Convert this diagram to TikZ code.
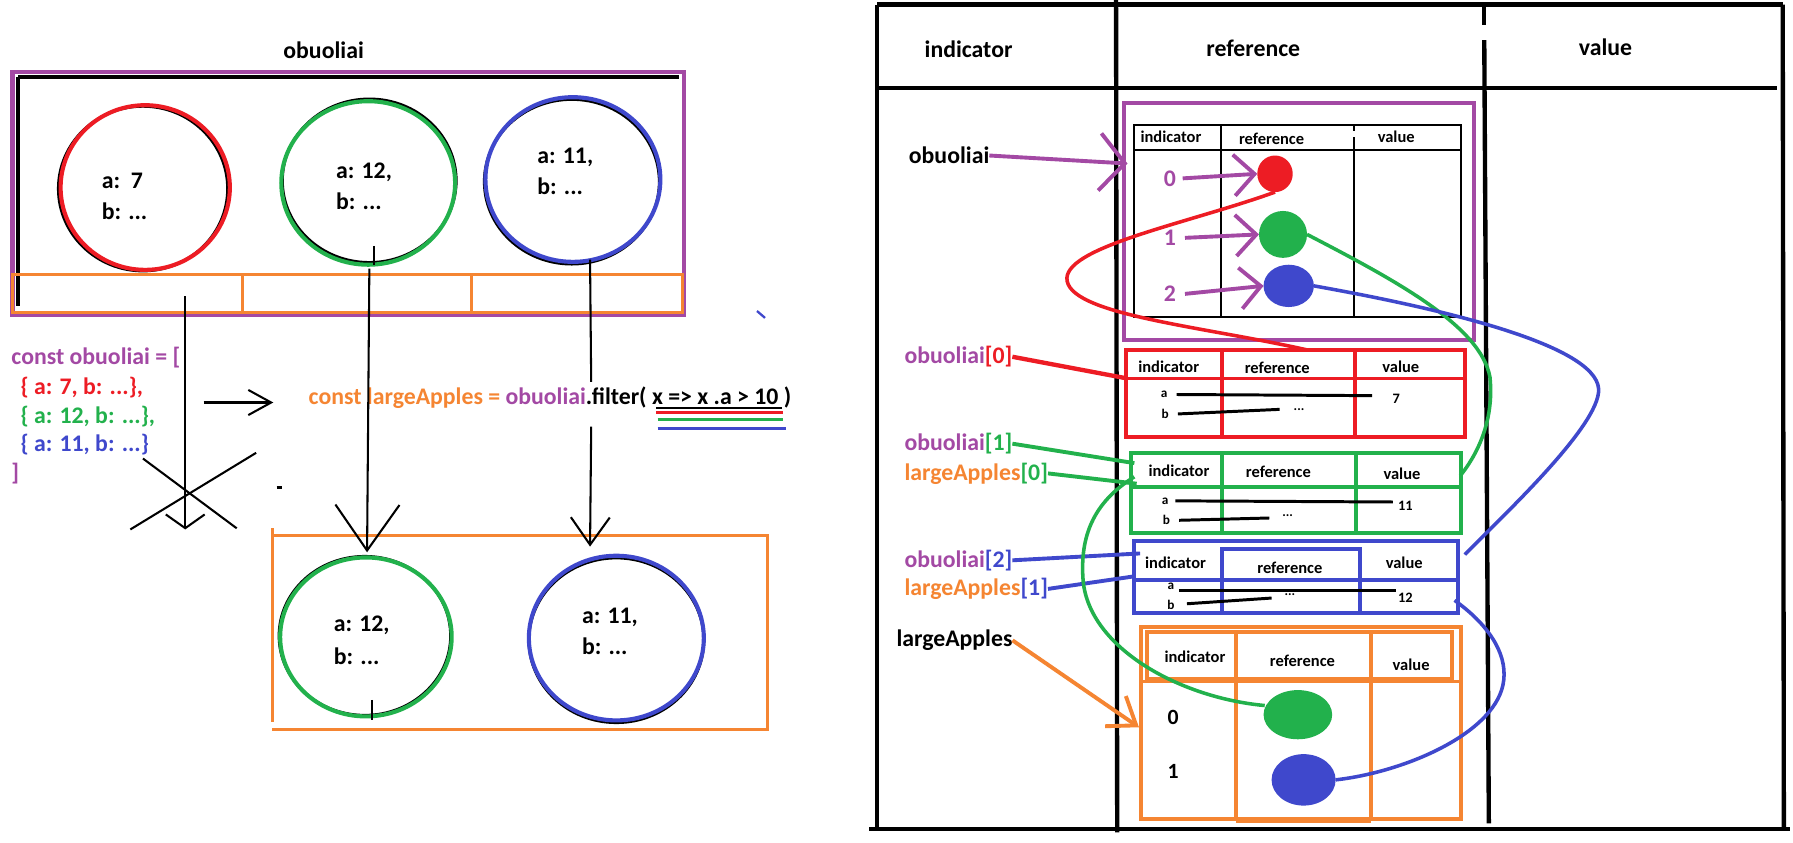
\documentclass[tikz,border=0pt]{standalone}
\usepackage{fontspec}
\setmainfont{Carlito}
\usetikzlibrary{arrows.meta,shapes.geometric}
\definecolor{ppurple}{RGB}{163,73,164}
\definecolor{pred}{RGB}{237,28,36}
\definecolor{pgreen}{RGB}{34,177,76}
\definecolor{pblue}{RGB}{63,72,204}
\definecolor{porange}{RGB}{245,133,50}
\begin{document}
\begin{tikzpicture}[x=0.5pt,y=-0.5pt,
  every node/.style={inner sep=0pt,outer sep=0pt},
  bigtxt/.style={font=\fontsize{10.4}{12}\selectfont\bfseries},
  smalltxt/.style={font=\fontsize{7.2}{8}\selectfont\bfseries},
  tinytxt/.style={font=\fontsize{5.8}{6}\selectfont\bfseries},
  numtxt/.style={font=\fontsize{6.3}{7}\selectfont\bfseries},
  codetxt/.style={bigtxt,anchor=west},
  heavy/.style={line width=1.9pt},
  mid/.style={line width=1.7pt},
  thin/.style={line width=0.9pt},
  rowline/.style={line width=1.3pt},
  curve/.style={line width=1.55pt},
  bigcirc/.style={ellipse,line width=1.8pt},
  dot/.style={ellipse},
  barbsmall/.style={-{Straight Barb[length=6pt,width=17pt]}},
  barblong/.style={-{Straight Barb[length=20pt,width=28pt]}},
  barbmid/.style={-{Straight Barb[length=12pt,width=17pt]}},
  barbshort/.style={-{Straight Barb[length=10pt,width=11pt]}},
  barbp/.style={-{Straight Barb[length=9pt,width=18pt]}},
  barbbig/.style={-{Straight Barb[length=11pt,width=25pt]}},
  barbo/.style={-{Straight Barb[length=11pt,width=16pt]}},
]
\useasboundingbox (0,0) rectangle (1568,737);
\fill[white] (0,0) rectangle (1568,737);

%================ LEFT PART =================
\node[bigtxt] (ttl) at (283,44) {obuoliai};
\draw[ppurple,line width=1.9pt] (11,63) rectangle (598,275);
\draw[black,line width=1.8pt] (16,67) -- (594,67);
\draw[black,line width=1.8pt] (16,67) -- (16,268);
\draw[porange,line width=1.4pt] (11,240) rectangle (597,273);
\draw[porange,line width=1.4pt] (212,240) rectangle (412,273);

\node[bigcirc,draw=black,line width=1.2pt,minimum width=74pt,minimum height=72pt] (sh1) at (125,165) {};
\node[bigcirc,draw=pred,minimum width=74pt,minimum height=72pt] (c1) at (127,164) {};
\node[bigcirc,draw=black,line width=1.2pt,minimum width=76pt,minimum height=71.5pt] (sh2) at (323,158) {};
\node[bigcirc,draw=pgreen,minimum width=76pt,minimum height=71.5pt] (c2) at (322,160) {};
\node[bigcirc,draw=black,line width=1.2pt,minimum width=76.5pt,minimum height=72pt] (sh3) at (500,159) {};
\node[bigcirc,draw=pblue,minimum width=76.5pt,minimum height=72pt] (c3) at (501,157) {};
\node[bigtxt,anchor=west] (t1a) at (89,158) {a:~~7};
\node[bigtxt,anchor=west] (t1b) at (89,185) {b: ...};
\node[bigtxt,anchor=west] (t2a) at (294,151) {a: 12,};
\node[bigtxt,anchor=west] (t2b) at (294,176) {b: ...};
\node[bigtxt,anchor=west] (t3a) at (470,138) {a: 11,};
\node[bigtxt,anchor=west] (t3b) at (470,163) {b: ...};

\node[codetxt,text=ppurple] (code1) at (10,313) {const obuoliai = [};
\node[codetxt,text=pred] (code2) at (18,339) {\{ a: 7, b: ...\},};
\node[codetxt,text=pgreen] (code3) at (18,364) {\{ a: 12, b: ...\},};
\node[codetxt,text=pblue] (code4) at (18,389) {\{ a: 11, b: ...\}};
\node[codetxt,text=ppurple] (code5) at (10,414) {]};
\node[codetxt] (filt) at (270,348) {{\color{porange}const largeApples = }{\color{ppurple}obuoliai}.filter( x => x .a > 10 )};
\coordinate (ulA) at (574,357); \coordinate (ulB) at (684,357);
\draw[black,line width=0.9pt] (ulA) -- (ulB);
\coordinate (urA) at (574,361); \coordinate (urB) at (685,361);
\draw[pred,line width=1.3pt] (urA) -- (urB);
\coordinate (ugA) at (575,367); \coordinate (ugB) at (685,367);
\draw[pgreen,line width=1.3pt] (ugA) -- (ugB);
\coordinate (ubA) at (575,374.5); \coordinate (ubB) at (687,374.5);
\draw[pblue,line width=1.3pt] (ubA) -- (ubB);

\draw[porange,line width=1.4pt] (238,468) -- (671,468) -- (671,638) -- (238,638);
\draw[porange,line width=1.4pt] (238,462) -- (238,631);

\node[bigcirc,draw=black,line width=1.2pt,minimum width=75pt,minimum height=69.5pt] (sh4) at (319,556) {};
\node[bigcirc,draw=pgreen,minimum width=75pt,minimum height=69.5pt] (c4) at (320,557) {};
\node[bigcirc,draw=black,line width=1.2pt,minimum width=76.5pt,minimum height=72pt] (sh5) at (539,560) {};
\node[bigcirc,draw=pblue,minimum width=76.5pt,minimum height=72pt] (c5) at (539,558) {};
\node[bigtxt,anchor=west] (t4a) at (292,547) {a: 12,};
\node[bigtxt,anchor=west] (t4b) at (292,574) {b: ...};
\node[bigtxt,anchor=west] (t5a) at (509,540) {a: 11,};
\node[bigtxt,anchor=west] (t5b) at (509,565) {b: ...};

\coordinate (v1s) at (162,259); \coordinate (v1e) at (162,463);
\draw[thin,barbsmall] (v1s) -- (v1e);
\coordinate (xa1) at (125,401); \coordinate (xa2) at (207,462);
\coordinate (xb1) at (114,463); \coordinate (xb2) at (224,396);
\draw[thin] (xa1) -- (xa2);
\draw[thin] (xb1) -- (xb2);
\coordinate (v2t) at (327,215); \coordinate (v2u) at (327,232);
\draw[thin] (v2t) -- (v2u);
\coordinate (v2s) at (323,235); \coordinate (v2e) at (321,483);
\draw[thin,barblong] (v2s) -- (v2e);
\coordinate (v3s) at (516,227); \coordinate (v3m) at (517,334);
\draw[thin] (v3s) -- (v3m);
\coordinate (v3n) at (517,373); \coordinate (v3e) at (516,478);
\draw[thin,barbmid] (v3n) -- (v3e);
\coordinate (hs) at (178,352); \coordinate (he) at (239,352);
\draw[thin,barbshort] (hs) -- (he);
\coordinate (tk1) at (325,612); \coordinate (tk2) at (325,630);
\draw[thin] (tk1) -- (tk2);
\coordinate (bm1) at (662,272); \coordinate (bm2) at (669,278);
\draw[pblue,line width=1pt] (bm1) -- (bm2);
\coordinate (dm1) at (242,426); \coordinate (dm2) at (247,426);
\draw[line width=1.2pt] (dm1) -- (dm2);

%================ RIGHT PART =================
\draw[heavy] (767,4) -- (1559,4);
\draw[heavy] (767,77) -- (1554,77);
\draw[heavy] (767,4) -- (767,723);
\draw[heavy] (976,0) -- (977,728);
\draw[heavy] (1298,4) -- (1298,22);
\draw[heavy] (1298,35) -- (1302,720);
\draw[heavy] (1559,4) -- (1560,724);
\draw[heavy] (760,725) -- (1565,725);
\node[bigtxt] (h1) at (847,43) {indicator};
\node[bigtxt] (h2) at (1096,42) {reference};
\node[bigtxt] (h3) at (1404,41) {value};

\draw[ppurple,mid] (983,90) rectangle (1289,297);
\draw[thin] (992,109) rectangle (1278,277);
\draw[thin] (992,131) -- (1278,131);
\draw[thin] (1068,109) -- (1068,277);
\draw[thin] (1184,109) -- (1184,115);
\draw[thin] (1184,120) -- (1184,277);
\node[smalltxt] (ih1) at (1024,120) {indicator};
\node[smalltxt] (ih2) at (1112,121) {reference};
\node[smalltxt] (ih3) at (1221,120) {value};
\node[dot,fill=pred,minimum width=15.5pt,minimum height=16pt] (rdot) at (1115,152) {};
\node[dot,fill=pgreen,minimum width=21pt,minimum height=20.5pt] (gdot) at (1122,205) {};
\node[dot,fill=pblue,minimum width=22pt,minimum height=18.5pt] (bdot) at (1127,250) {};
\node[bigtxt,text=ppurple] (n0) at (1023,156) {0};
\node[bigtxt,text=ppurple] (n1) at (1023,208) {1};
\node[bigtxt,text=ppurple] (n2) at (1023,257) {2};
\draw[ppurple,mid,barbp] ([xshift=3pt]n0.east) -- (rdot.west);
\draw[ppurple,mid,barbp] ([xshift=4pt]n1.east) -- (gdot.west);
\draw[ppurple,mid,barbp] ([xshift=4pt]n2.east) -- (bdot.west);
\node[bigtxt] (lob) at (830,136) {obuoliai};
\coordinate (pbt) at (986,143);
\draw[ppurple,mid,barbbig] (lob.east) -- (pbt);

% red table
\draw[pred,mid] (985,306) rectangle (1281,382);
\draw[pred,mid] (985,331) -- (1281,331);
\draw[pred,mid] (1069,306) -- (1069,382);
\draw[pred,mid] (1185,306) -- (1185,382);
\node[smalltxt] (rh1) at (1022,321) {indicator};
\node[smalltxt] (rh2) at (1117,322) {reference};
\node[smalltxt] (rh3) at (1225,321) {value};
\node[tinytxt] (ra) at (1018,345) {a};
\node[tinytxt] (rb) at (1019,362) {b};
\node[numtxt] (rv) at (1221,349) {7};
\node[tinytxt] (rdd) at (1136,358) {...};
\coordinate (raE) at (1200,346);
\draw[rowline] ([xshift=4pt]ra.east) -- (raE);
\coordinate (rbE) at (1119,358);
\draw[rowline] ([xshift=4pt]rb.east) -- (rbE);
\node[bigtxt,anchor=west] (l0) at (791,312) {{\color{ppurple}obuoliai}{\color{pred}[0]}};
\coordinate (rT) at (986,331);
\draw[pred,heavy] (l0.east) -- (rT);

% green table
\draw[pgreen,mid] (989,396) rectangle (1278,466);
\draw[pgreen,mid] (989,426) -- (1278,426);
\draw[pgreen,mid] (1069,396) -- (1069,466);
\draw[pgreen,mid] (1186,396) -- (1186,466);
\node[smalltxt] (gh1) at (1031,412) {indicator};
\node[smalltxt] (gh2) at (1118,413) {reference};
\node[smalltxt] (gh3) at (1226,414) {value};
\node[tinytxt] (ga) at (1019,438) {a};
\node[tinytxt] (gb) at (1020,455) {b};
\node[numtxt] (gv) at (1229,442) {11};
\node[tinytxt] (gdd) at (1126,451) {...};
\coordinate (gaE) at (1218,439);
\draw[rowline] ([xshift=3pt]ga.east) -- (gaE);
\coordinate (gbE) at (1110,453);
\draw[rowline] ([xshift=4pt]gb.east) -- (gbE);
\node[bigtxt,anchor=west] (l1) at (791,388) {{\color{ppurple}obuoliai}{\color{pgreen}[1]}};
\node[bigtxt,anchor=west] (l2) at (791,414) {{\color{porange}largeApples}{\color{pgreen}[0]}};
\coordinate (gT1) at (992,405);
\coordinate (gT2) at (994,423);
\draw[pgreen,mid] (l1.east) -- (gT1);
\draw[pgreen,mid] (l2.east) -- (gT2);

% blue table
\draw[pblue,mid] (992,473) rectangle (1275,536);
\draw[pblue,mid] (992,507) -- (1275,507);
\draw[pblue,mid] (1069,480) rectangle (1189,536);
\node[smalltxt] (bh1) at (1028,492) {indicator};
\node[smalltxt] (bh2) at (1128,497) {reference};
\node[smalltxt] (bh3) at (1228,492) {value};
\node[tinytxt] (ba) at (1024,513) {a};
\node[tinytxt] (bb) at (1024,529) {b};
\node[numtxt] (bv) at (1229,523) {12};
\node[tinytxt] (bdd) at (1128,520) {...};
\coordinate (baS) at (1031,516); \coordinate (baE) at (1221,516);
\draw[rowline] (baS) -- (baE);
\coordinate (bbS) at (1038,528); \coordinate (bbE) at (1112,523);
\draw[rowline] (bbS) -- (bbE);
\node[bigtxt,anchor=west] (l3) at (791,490) {{\color{ppurple}obuoliai}{\color{pblue}[2]}};
\node[bigtxt,anchor=west] (l4) at (791,515) {{\color{porange}largeApples}{\color{pblue}[1]}};
\coordinate (bT1) at (997,484);
\coordinate (bT2) at (992,504);
\draw[pblue,mid] (l3.east) -- (bT1);
\draw[pblue,mid] (l4.east) -- (bT2);

% orange table
\draw[porange,mid] (998,548) rectangle (1278,716);
\draw[porange,mid] (1003,553) rectangle (1270,594);
\draw[porange,mid] (998,596) -- (1278,596);
\draw[porange,mid] (1081,553) -- (1081,718);
\draw[porange,mid] (1199,553) -- (1199,718);
\draw[porange,mid] (1081,718) -- (1199,718);
\node[smalltxt] (oh1) at (1045,574) {indicator};
\node[smalltxt] (oh2) at (1139,578) {reference};
\node[smalltxt] (oh3) at (1234,581) {value};
\node[font=\fontsize{9.5}{11}\selectfont\bfseries] (o0) at (1026,627) {0};
\node[font=\fontsize{9.5}{11}\selectfont\bfseries] (o1) at (1026,675) {1};
\node[dot,fill=pgreen,minimum width=30pt,minimum height=21.5pt] (g2dot) at (1135,625) {};
\node[dot,fill=pblue,minimum width=28pt,minimum height=22.5pt] (b2dot) at (1140,682) {};
\node[bigtxt,anchor=west] (lla) at (784,560) {largeApples};
\coordinate (oT) at (996,636);
\draw[porange,mid,barbo] (lla.east) -- (oT);

% curves
\coordinate (redE) at (1143,306);
\draw[pred,curve] (rdot.south) .. controls (1040,195) and (935,215) .. (933,243)
  .. controls (932,275) and (1050,285) .. (redE);
\coordinate (gE1) at (1277,416);
\draw[pgreen,curve] (gdot.east) .. controls (1220,245) and (1295,285) .. (1303,330)
  .. controls (1307,370) and (1290,400) .. (gE1);
\coordinate (bE1) at (1281,485);
\draw[pblue,curve] (bdot.east) .. controls (1250,268) and (1395,300) .. (1398,340)
  .. controls (1400,372) and (1310,455) .. (bE1);
\coordinate (gS2) at (992,417);
\coordinate (gE2) at (1106,617);
\draw[pgreen,curve] (gS2) .. controls (955,440) and (945,470) .. (947,505)
  .. controls (950,565) and (1030,610) .. (gE2);
\coordinate (bS2) at (1272,525);
\draw[pblue,curve] (bS2) .. controls (1300,545) and (1318,570) .. (1315,595)
  .. controls (1310,640) and (1230,675) .. (b2dot.east);
\end{tikzpicture}
\end{document}
